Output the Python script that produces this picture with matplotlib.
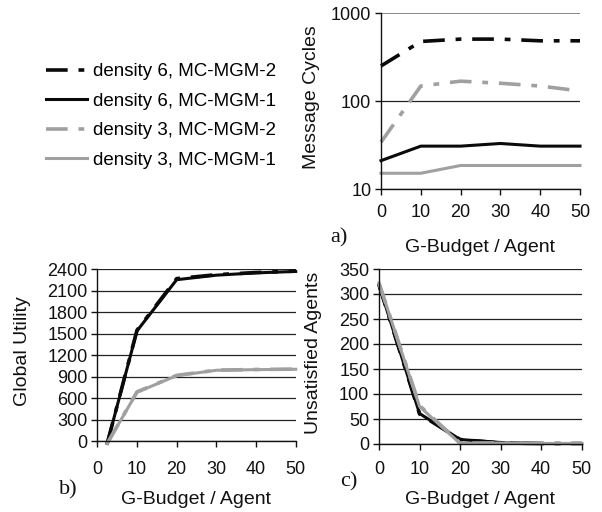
import matplotlib
matplotlib.use("Agg")
import matplotlib.pyplot as plt
from matplotlib.ticker import FixedLocator, NullLocator

plt.rcParams['font.family'] = ['Liberation Sans', 'DejaVu Sans']

# ---------------- data ----------------
budget = [0, 10, 20, 30, 40, 50]
budget_b = [2.5, 10, 20, 30, 40, 50]

series_labels = ["density 6, MC-MGM-2", "density 6, MC-MGM-1",
                 "density 3, MC-MGM-2", "density 3, MC-MGM-1"]

# a) Message cycles (log scale)
cycles_d6_m2 = [250, 475, 505, 505, 483, 483]
cycles_d6_m1 = [21, 30.7, 30.7, 32.9, 30.7, 30.7]
cycles_d3_m2 = [34, 148, 168, 159, 148, 130]
cycles_d3_m1 = [15.1, 15.1, 18.5, 18.5, 18.5, 18.5]

# b) Global utility
util_d6_m2 = [-30, 1550, 2270, 2325, 2355, 2375]
util_d6_m1 = [-30, 1540, 2255, 2318, 2350, 2370]
util_d3_m2 = [-30, 690, 920, 993, 1002, 1007]
util_d3_m1 = [-30, 684, 916, 991, 1000, 1005]

# c) Unsatisfied agents
unsat_d6_m2 = [318, 60, 9, 2, 1, 1]
unsat_d6_m1 = [318, 61, 9, 3, 1, 1]
unsat_d3_m2 = [322, 77, 2, 2, 1, 1]
unsat_d3_m1 = [322, 75, 1, 2, 1, 1]

xticks = [0, 10, 20, 30, 40, 50]
yticks_a = [10, 100, 1000]
yticks_b = [0, 300, 600, 900, 1200, 1500, 1800, 2100, 2400]
yticks_c = [0, 50, 100, 150, 200, 250, 300, 350]

# ---------------- styles ----------------
BLACK = '#0a0a0a'
GRAY = '#a0a0a0'
DASH = (6, 3, 1.6, 3)
styles = [
    dict(color=BLACK, lw=2.6, dashes=DASH),
    dict(color=BLACK, lw=2.2),
    dict(color=GRAY, lw=2.6, dashes=DASH),
    dict(color=GRAY, lw=2.2),
]

TICK_FS = 13
LABEL_FS = 14
W, H = 602, 512
fig = plt.figure(figsize=(W / 100, H / 100), dpi=100)


def rect(l, r, t, b):
    return [l / W, (H - b) / H, (r - l) / W, (b - t) / H]


def style_axes(ax, xpad):
    for s in ['top', 'right']:
        ax.spines[s].set_visible(False)
    ax.spines['left'].set_color('#111111')
    ax.spines['bottom'].set_color('#111111')
    ax.spines['left'].set_linewidth(1.0)
    ax.spines['bottom'].set_linewidth(1.0)
    ax.tick_params(axis='both', direction='out', length=4, width=1,
                   color='#111111', labelsize=TICK_FS, labelcolor='#111111')
    ax.tick_params(axis='x', pad=xpad)
    ax.tick_params(axis='y', pad=3)
    ax.yaxis.grid(True, color='#222222', lw=0.9)
    ax.set_axisbelow(True)
    ax.set_xlim(0, 50)
    ax.set_xticks(xticks)


def set_labels(ax, xl, yl, xc, yc):
    ax.set_xlabel(xl, fontsize=LABEL_FS, color='#111111')
    ax.set_ylabel(yl, fontsize=LABEL_FS, color='#111111')
    ax.xaxis.label.set_va('center')
    ax.yaxis.label.set_va('center')
    ax.xaxis.set_label_coords(*xc)
    ax.yaxis.set_label_coords(*yc)


# ---------------- a) ----------------
axa = fig.add_axes(rect(381, 580, 13, 189))
style_axes(axa, 7)
axa.set_yscale('log')
axa.set_ylim(10, 1000)
axa.yaxis.set_major_locator(FixedLocator(yticks_a))
axa.yaxis.set_minor_locator(NullLocator())
axa.set_yticklabels([str(v) for v in yticks_a])
lines = []
for ys, st, lab in zip([cycles_d6_m2, cycles_d6_m1, cycles_d3_m2, cycles_d3_m1],
                       styles, series_labels):
    ln, = axa.plot(budget, ys, label=lab, clip_on=False, **st)
    lines.append(ln)
gl = axa.get_ygridlines()
gl[-1].set_color('#888888')
gl[-1].set_linewidth(1.4)
set_labels(axa, "G-Budget / Agent", "Message Cycles", (0.497, -0.33), (-0.35, 0.52))

# ---------------- b) ----------------
axb = fig.add_axes(rect(97.3, 295.7, 269.3, 441.3))
style_axes(axb, 10)
axb.set_ylim(0, 2400)
axb.set_yticks(yticks_b)
for ys, st in zip([util_d6_m2, util_d6_m1, util_d3_m2, util_d3_m1], styles):
    axb.plot(budget_b, ys, clip_on=False, **st)
set_labels(axb, "G-Budget / Agent", "Global Utility", (0.497, -0.341), (-0.375, 0.525))

# ---------------- c) ----------------
axc = fig.add_axes(rect(379, 581.7, 269, 444))
style_axes(axc, 8.5)
axc.set_ylim(0, 350)
axc.set_yticks(yticks_c)
for ys, st in zip([unsat_d6_m2, unsat_d6_m1, unsat_d3_m2, unsat_d3_m1], styles):
    axc.plot(budget, ys, clip_on=False, **st)
set_labels(axc, "G-Budget / Agent", "Unsatisfied Agents", (0.498, -0.32), (-0.322, 0.52))

# panel letters
for txt, x, y in [("a)", 339, 238), ("b)", 68, 490), ("c)", 349, 482)]:
    fig.text(x / W, 1 - y / H, txt, family=['Liberation Serif', 'DejaVu Serif'],
             fontsize=16, ha='center', va='center', color='#111111')

# legend
fig.legend(handles=lines, labels=series_labels, loc='upper left',
           bbox_to_anchor=(46 / W, 1 - 63 / H), frameon=False,
           fontsize=13.5, handlelength=2.2, handletextpad=0.3,
           labelspacing=0.66, borderaxespad=0, borderpad=0)

fig.savefig("out.png", dpi=100)
